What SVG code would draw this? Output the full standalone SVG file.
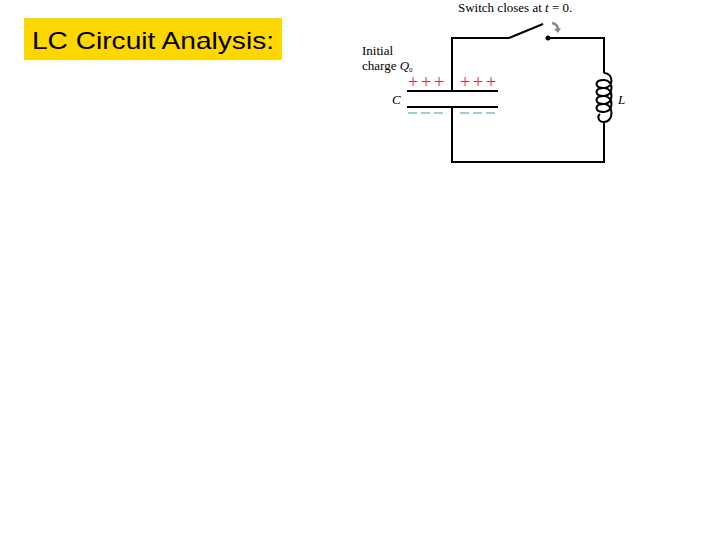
<svg xmlns="http://www.w3.org/2000/svg" width="720" height="540" viewBox="0 0 720 540">
<style>
.w{stroke:#000;stroke-width:2;fill:none}
.t{font-family:"Liberation Serif",serif;font-size:13px;fill:#000}
.p{font-family:"Liberation Serif",serif;font-size:18px;fill:#c8323c;text-anchor:middle}
</style>
<rect width="720" height="540" fill="#fff"/>
<g id="title"><rect x="24" y="18" width="258" height="42" fill="#ffd700"/>
<text x="32" y="49" font-family="Liberation Sans,Arial,sans-serif" font-size="24" textLength="242" lengthAdjust="spacingAndGlyphs">LC Circuit Analysis:</text></g>
<g id="connectors">
<path class="w" d="M509 38H452V91M452 107V162H604V127M604 73V38H548"/>
<path class="w" d="M509 38L543 24"/>
<circle cx="548" cy="38" r="2.5" fill="#000"/>
<path d="M552 23Q558 24 558 30" stroke="#888" stroke-width="2.5" fill="none"/>
<path d="M554 29L558 33L561 28Z" fill="#888"/>
</g>
<g id="capacitor">
<path class="w" d="M407 91H498M407 107H498" stroke-width="1.5"/>
<text class="p" y="88"><tspan x="413">+</tspan><tspan x="426">+</tspan><tspan x="439">+</tspan><tspan x="465">+</tspan><tspan x="478">+</tspan><tspan x="491">+</tspan></text>
<path d="M408 113h9M421 113h9M434 113h9M460 113h9M473 113h9M486 113h9" stroke="#3aa0a8" stroke-width="1.2"/>
<text class="t" x="392" y="104" font-style="italic">C</text>
<text class="t" x="362" y="55">Initial</text>
<text class="t" x="362" y="70">charge <tspan font-style="italic">Q</tspan><tspan font-size="7" dy="2">0</tspan></text>
</g>
<g id="inductor">
<path class="w" stroke-width="2" d="M604 73C614 73 614 88 604 88C594 88 594 80 604 80C614 80 614 96 604 96C594 96 594 88 604 88C614 88 614 104 604 104C594 104 594 96 604 96C614 96 614 112 604 112C594 112 594 104 604 104C614 104 614 122 604 122C598 122 597 116 600 114M604 122V127"/>
<text class="t" x="618" y="104" font-style="italic">L</text>
</g>
<g id="switch-label"><text class="t" x="458" y="12">Switch closes at <tspan font-style="italic">t</tspan> = 0.</text></g>
</svg>
